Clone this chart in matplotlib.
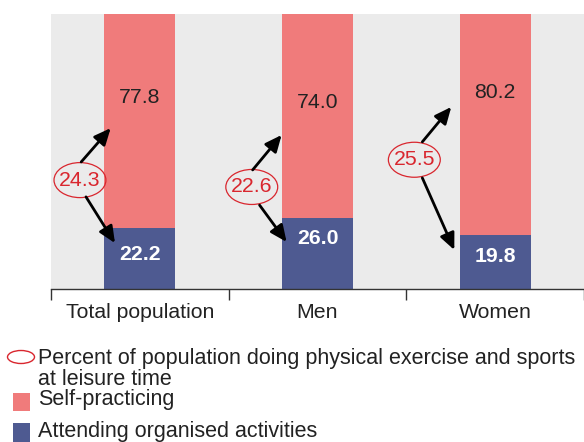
import matplotlib
matplotlib.use("Agg")
import matplotlib.pyplot as plt
from matplotlib.patches import Ellipse, Rectangle

plt.rcParams['font.family'] = ['Liberation Sans', 'DejaVu Sans']

categories = ["Total population", "Men", "Women"]
organised = [22.2, 26.0, 19.8]
self_practicing = [77.8, 74.0, 80.2]
total_pct = [24.3, 22.6, 25.5]

legend_labels = ["Percent of population doing physical exercise and sports\nat leisure time",
                 "Self-practicing", "Attending organised activities"]

PINK = "#F07B7B"
NAVY = "#4E5A91"
RED = "#D9262E"
BG = "#EBEBEB"
TXT = "#222222"
FS = 15.3
LFS = 15.5

fig = plt.figure(figsize=(5.84, 4.42), dpi=100)
ax = fig.add_axes([51/584, 153/442, 533/584, 275/442])
ax.set_facecolor(BG)

x = list(range(len(categories)))
ax.bar(x, organised, width=0.4, color=NAVY, zorder=2)
ax.bar(x, self_practicing, width=0.4, bottom=organised, color=PINK, zorder=2)

ax.set_xlim(-0.5, 2.5)
ax.set_ylim(0, 100)
ax.set_yticks([])
ax.set_xticks([-0.5, 0.5, 1.5, 2.5])
ax.set_xticklabels([])
ax.tick_params(axis='x', length=8, width=1, color="#333333", direction='out')
for s in ['top', 'right', 'left']:
    ax.spines[s].set_visible(False)
ax.spines['bottom'].set_color("#333333")
ax.spines['bottom'].set_linewidth(1)

for i, c in enumerate(categories):
    ax.text(i, -8.7, c, ha='center', va='center', fontsize=FS, color=TXT)

# value labels (layout offsets)
pink_y_off = [8.6, 5.0, 11.4]
navy_y_off = [1.3, 5.5, 2.1]
for i in x:
    seg_mid = organised[i] + self_practicing[i] / 2
    ax.text(i, seg_mid + pink_y_off[i], f"{self_practicing[i]:.1f}", ha='center', va='center',
            fontsize=FS, color=TXT, zorder=3)
    ax.text(i, organised[i] / 2 + navy_y_off[i], f"{organised[i]:.1f}", ha='center', va='center',
            fontsize=FS, color="white", fontweight='bold', zorder=3)

# ellipses and arrows (layout)
ell_pos = [(-0.337, 39.6), (0.63, 37.1), (1.545, 47.0)]
up_arrows = [((-0.33, 46.2), (-0.164, 58.5)), ((0.635, 43.3), (0.798, 56.0)), ((1.59, 53.5), (1.753, 66.2))]
dn_arrows = [((-0.303, 33.5), (-0.14, 16.7)), ((0.674, 30.5), (0.826, 17.1)), ((1.59, 40.4), (1.77, 14.2))]
for i in x:
    ex, ey = ell_pos[i]
    ax.add_patch(Ellipse((ex, ey), width=52/178, height=35/2.75, facecolor='none',
                         edgecolor=RED, lw=0.9, zorder=4))
    ax.text(ex, ey, f"{total_pct[i]:.1f}", ha='center', va='center', fontsize=FS, color=RED, zorder=5)
    for (s, e) in (up_arrows[i], dn_arrows[i]):
        ax.annotate("", xy=e, xytext=s,
                    arrowprops=dict(arrowstyle="-|>,head_length=1.0,head_width=0.45",
                                    color="black", lw=2, shrinkA=0, shrinkB=0), zorder=4)

# legend
fig.patches.append(Ellipse((21/584, 1 - 357/442), width=27/584, height=13/442, transform=fig.transFigure,
                           facecolor='none', edgecolor=RED, lw=1.0))
fig.text(38/584, 1 - 348/442, legend_labels[0], ha='left', va='top', fontsize=LFS, color=TXT,
         linespacing=1.0, transform=fig.transFigure)
fig.patches.append(Rectangle((13/584, 1 - 411/442), 17/584, 18/442, transform=fig.transFigure,
                             facecolor=PINK, edgecolor='none'))
fig.text(38/584, 1 - 400/442, legend_labels[1], ha='left', va='center', fontsize=LFS, color=TXT)
fig.patches.append(Rectangle((13/584, 1 - 442/442), 17/584, 19/442, transform=fig.transFigure,
                             facecolor=NAVY, edgecolor='none'))
fig.text(38/584, 1 - 432/442, legend_labels[2], ha='left', va='center', fontsize=LFS, color=TXT)

fig.savefig("out.png", dpi=100)
